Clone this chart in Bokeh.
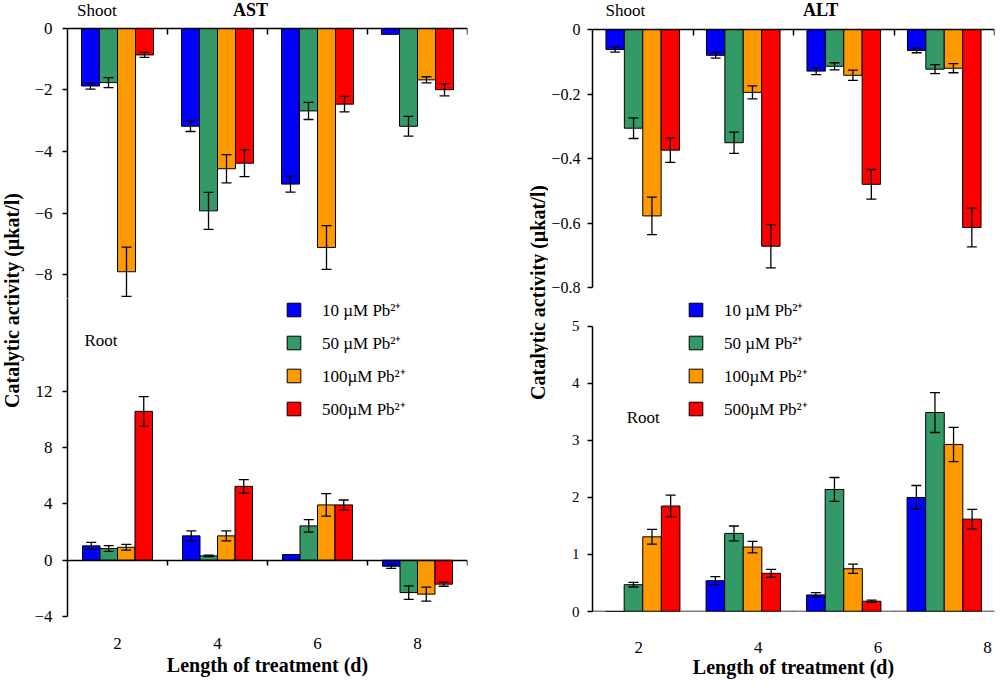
import math
from bokeh.plotting import figure
from bokeh.models import (ColumnDataSource, Range1d, LinearAxis, FixedTicker,
                          Whisker, TeeHead, Legend, LegendItem, Label)
from bokeh.layouts import row, column
from bokeh.embed import file_html
from bokeh.resources import INLINE

# ---------------- data ----------------
days = ["2", "4", "6", "8"]
series_labels = ["10 µM Pb²⁺", "50 µM Pb²⁺", "100µM Pb²⁺", "500µM Pb²⁺"]
series_colors = ["#0000FF", "#339966", "#FF9900", "#FF0000"]

# rows: 10, 50, 100, 500 µM Pb ; columns: day 2, 4, 6, 8
ast_shoot_mean = [
    [-1.87, -3.18, -5.06, -0.19],
    [-1.76, -5.93, -2.68, -3.18],
    [-7.91, -4.56, -7.12, -1.67],
    [-0.86, -4.38, -2.46, -1.99],
]
ast_shoot_err = [
    [0.10, 0.17, 0.26, 0.0],
    [0.16, 0.60, 0.28, 0.32],
    [0.80, 0.46, 0.71, 0.10],
    [0.08, 0.44, 0.25, 0.20],
]
ast_root_mean = [
    [1.02, 1.73, 0.40, -0.43],
    [0.83, 0.31, 2.44, -2.30],
    [0.92, 1.73, 3.93, -2.41],
    [10.58, 5.25, 3.93, -1.70],
]
ast_root_err = [
    [0.25, 0.35, 0.0, 0.15],
    [0.20, 0.05, 0.45, 0.48],
    [0.20, 0.35, 0.80, 0.50],
    [1.05, 0.48, 0.35, 0.15],
]
alt_shoot_mean = [
    [-0.062, -0.080, -0.129, -0.065],
    [-0.306, -0.351, -0.114, -0.123],
    [-0.578, -0.195, -0.142, -0.120],
    [-0.374, -0.672, -0.480, -0.614],
]
alt_shoot_err = [
    [0.008, 0.009, 0.011, 0.007],
    [0.032, 0.033, 0.011, 0.014],
    [0.058, 0.020, 0.016, 0.014],
    [0.038, 0.067, 0.046, 0.060],
]
alt_root_mean = [
    [0.0, 0.54, 0.29, 2.00],
    [0.47, 1.37, 2.14, 3.49],
    [1.31, 1.13, 0.75, 2.93],
    [1.85, 0.67, 0.18, 1.62],
]
alt_root_err = [
    [0.0, 0.07, 0.04, 0.21],
    [0.04, 0.13, 0.21, 0.35],
    [0.13, 0.10, 0.08, 0.30],
    [0.19, 0.07, 0.02, 0.17],
]

y_title = "Catalytic activity (µkat/l)"
x_title = "Length of treatment (d)"

FONT = "Liberation Serif"


# ---------------- helpers ----------------
def make_fig(w, h, xr, yr, bl=0, br=0, bt=0, bb=0):
    p = figure(width=w, height=h, x_range=xr, y_range=yr, title=None,
               output_backend="svg", toolbar_location=None,
               x_axis_location=None, y_axis_location=None,
               min_border_left=bl, min_border_right=br,
               min_border_top=bt, min_border_bottom=bb)
    p.outline_line_color = None
    p.background_fill_color = "white"
    p.border_fill_color = "white"
    p.xgrid.visible = False
    p.ygrid.visible = False
    return p


def style_axis(ax, size):
    ax.axis_line_color = "black"
    ax.axis_line_width = 1.5
    ax.major_tick_line_color = "black"
    ax.major_tick_line_width = 1.5
    ax.minor_tick_line_color = None
    ax.major_label_text_font = FONT
    ax.major_label_text_font_size = size
    ax.major_label_text_color = "black"


def add_y(p, ticks, bounds, size, standoff, overrides=None):
    ax = LinearAxis(ticker=FixedTicker(ticks=ticks), bounds=bounds)
    style_axis(ax, size)
    ax.major_tick_out = 5
    ax.major_tick_in = 0
    ax.major_label_standoff = standoff
    if overrides:
        ax.major_label_overrides = overrides
    p.add_layout(ax, "left")


def add_x_ticks(p, place, inward, fixed=0):
    ticks = [1, 2, 3, 4]
    ax = LinearAxis(ticker=FixedTicker(ticks=ticks), bounds=(0, 4),
                    major_label_overrides={t: "" for t in ticks})
    style_axis(ax, "10px")
    ax.major_label_standoff = 0
    if inward:
        ax.major_tick_in = 6
        ax.major_tick_out = 0
    else:
        ax.major_tick_in = 0
        ax.major_tick_out = 5
    ax.fixed_location = fixed
    p.add_layout(ax, place)


def add_x_labels(p, positions, standoff, title_standoff, bounds):
    ax = LinearAxis(ticker=FixedTicker(ticks=positions), bounds=bounds,
                    major_label_overrides={pos: d for pos, d in zip(positions, days)})
    style_axis(ax, "17px")
    ax.axis_line_color = None
    ax.major_tick_line_color = None
    ax.major_tick_in = 0
    ax.major_tick_out = 0
    ax.major_label_standoff = standoff
    ax.axis_label = x_title
    ax.axis_label_text_font = FONT
    ax.axis_label_text_font_size = "20px"
    ax.axis_label_text_font_style = "bold"
    ax.axis_label_text_color = "black"
    ax.axis_label_standoff = title_standoff
    p.add_layout(ax, "below")


def add_bars(p, means, errs, width):
    centers = [i + 0.5 for i in range(len(days))]
    items = []
    for k in range(len(series_labels)):
        off = (k - 1.5) * width
        xs = [c + off for c in centers]
        src = ColumnDataSource(dict(x=xs, top=means[k]))
        r = p.vbar(x="x", top="top", bottom=0, width=width, source=src,
                   fill_color=series_colors[k], line_color="black", line_width=1)
        items.append(LegendItem(label=series_labels[k], renderers=[r]))
        ex, up, lo = [], [], []
        for x, m, e in zip(xs, means[k], errs[k]):
            if e > 0:
                ex.append(x)
                up.append(m + e)
                lo.append(m - e)
        esrc = ColumnDataSource(dict(x=ex, upper=up, lower=lo))
        w = Whisker(source=esrc, base="x", upper="upper", lower="lower",
                    dimension="height", line_color="black", line_width=1.3,
                    upper_head=TeeHead(size=10, line_color="black", line_width=1.3),
                    lower_head=TeeHead(size=10, line_color="black", line_width=1.3),
                    level="overlay")
        p.add_layout(w)
    return items


def add_legend(p, items, loc):
    leg = Legend(items=items, location=loc, orientation="vertical",
                 glyph_width=17, glyph_height=17, label_height=23,
                 label_standoff=20, spacing=10, padding=0, margin=0,
                 border_line_color=None, background_fill_alpha=0,
                 label_text_font=FONT, label_text_font_size="17px",
                 label_text_color="black")
    p.add_layout(leg)


def add_text(p, x, y, text, size, bold=False, align="left"):
    p.add_layout(Label(x=x, y=y, text=text, text_font=FONT, text_font_size=size,
                       text_font_style="bold" if bold else "normal",
                       text_align=align, text_baseline="middle", text_color="black"))


# ---------------- left column: AST ----------------
LW = 480
ls = make_fig(LW, 298, Range1d(0, 4), Range1d(-8.78, 0.91), bl=39, br=23, bt=0, bb=0)
add_x_ticks(ls, "above", inward=True)
add_y(ls, [0, -2, -4, -6, -8], (-8.78, 0), "17px", 10)
add_bars(ls, ast_shoot_mean, ast_shoot_err, 0.18)
add_text(ls, 0.096, 0.585, "Shoot", "17px")
add_text(ls, 1.83, 0.585, "AST", "18px", bold=True, align="center")

lr = make_fig(LW, 394, Range1d(0, 4), Range1d(-4, 18.6), bl=39, br=41, bt=0, bb=76)
add_x_ticks(lr, "below", inward=False)
add_x_labels(lr, [0.5, 1.5, 2.5, 3.5], 21, 2, (0.0, 4.04))
add_y(lr, [-4, 0, 4, 8, 12], (-4, 18.6), "17px", 10)
items_l = add_bars(lr, ast_root_mean, ast_root_err, 0.175)
add_legend(lr, items_l, (218, 196))
add_text(lr, 0.17, 15.6, "Root", "17px")

# ---------------- right column: ALT ----------------
RW = 452
rs = make_fig(RW, 298, Range1d(0, 4), Range1d(-0.8, 0.09), bl=42, br=2, bt=0, bb=11)
add_x_ticks(rs, "above", inward=True)
add_y(rs, [0, -0.2, -0.4, -0.6, -0.8], (-0.8, 0), "16px", 7, overrides={0: "0"})
add_bars(rs, alt_shoot_mean, alt_shoot_err, 0.183)
add_text(rs, 0.13, 0.059, "Shoot", "17px")
add_text(rs, 2.27, 0.059, "ALT", "18px", bold=True, align="center")

rr = make_fig(RW, 394, Range1d(0, 4), Range1d(0, 5.49), bl=44, br=6, bt=0, bb=81)
add_x_ticks(rr, "below", inward=False)
add_x_labels(rr, [0.46, 1.65, 2.84, 3.93], 30, 0, (0.24, 4.0))
add_y(rr, [0, 1, 2, 3, 4, 5], (0, 5), "15px", 8)
items_r = add_bars(rr, alt_root_mean, alt_root_err, 0.185)
add_legend(rr, items_r, (95, 191))
add_text(rr, 0.34, 3.40, "Root", "17px")

# ---------------- y-axis titles ----------------
tl = make_fig(28, 692, Range1d(0, 28), Range1d(0, 692))
tl.add_layout(Label(x=11, y=392, text=y_title, angle=math.pi / 2, text_font=FONT,
                    text_font_size="20px", text_font_style="bold",
                    text_align="center", text_baseline="middle", text_color="black"))
tr = make_fig(40, 692, Range1d(0, 40), Range1d(0, 692))
tr.add_layout(Label(x=29, y=400, text=y_title, angle=math.pi / 2, text_font=FONT,
                    text_font_size="20px", text_font_style="bold",
                    text_align="center", text_baseline="middle", text_color="black"))

layout = row(tl, column(ls, lr), tr, column(rs, rr))

open("out.html", "w").write(file_html(layout, INLINE))
